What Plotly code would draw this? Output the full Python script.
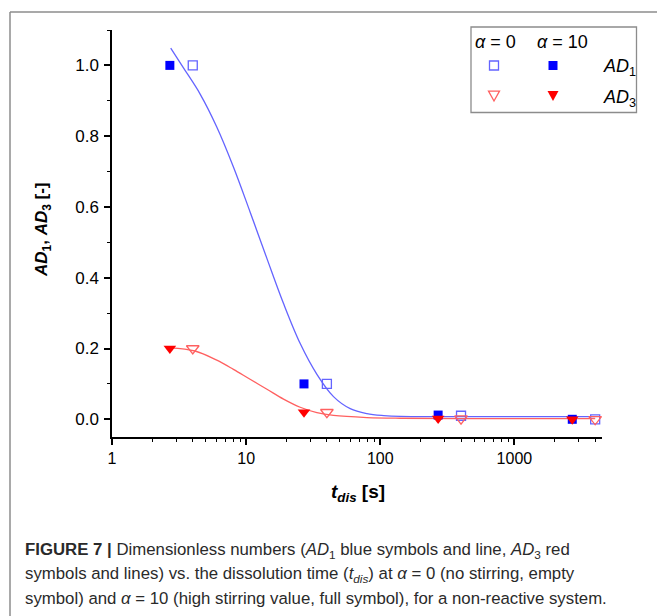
import plotly.graph_objects as go

# ---------------- data ----------------
t_alpha10 = [2.7, 27, 270, 2700]
t_alpha0 = [4, 40, 400, 4000]
AD1_alpha10 = [1.0, 0.10, 0.012, 0.0]
AD1_alpha0 = [1.0, 0.10, 0.010, 0.0]
AD3_alpha10 = [0.20, 0.020, 0.002, 0.0]
AD3_alpha0 = [0.20, 0.020, 0.002, 0.0]

# fitted curves
AD1_fit_t = [2.74, 3.41, 4.54, 6.04, 8.04, 10.7, 14.3, 19.0, 25.3, 33.7, 44.8, 59.7, 79.5, 106, 141, 400, 1000, 4000]
AD1_fit_y = [1.049, 0.993, 0.919, 0.826, 0.713, 0.586, 0.454, 0.327, 0.214, 0.127, 0.064, 0.030, 0.016, 0.0104, 0.008, 0.0075, 0.0075, 0.0075]
AD3_fit_t = [2.7, 4.16, 6.04, 8.04, 10.7, 14.3, 19.0, 25.3, 33.7, 44.8, 79.5, 141, 400, 4000]
AD3_fit_y = [0.202, 0.193, 0.167, 0.141, 0.113, 0.085, 0.057, 0.034, 0.019, 0.011, 0.005, 0.003, 0.002, 0.002]

x_tickvals = [1, 10, 100, 1000]
x_ticktext = ["1", "10", "100", "1000"]
y_tickvals = [0.0, 0.2, 0.4, 0.6, 0.8, 1.0]

# ---------------- layout geometry ----------------
W, H = 657, 616
L, R, T, B = 112, 55, 30, 179
PW = W - L - R
PH = H - T - B


def px(x):
    return (x - L) / PW


def py(y):
    return (H - B - y) / PH


BLUE = "#0000ff"
BLUE_LINE = "#6464ff"
RED = "#ff0000"
RED_LINE = "#ff6060"
FONT = "Liberation Sans, Arial, sans-serif"

fig = go.Figure()

fig.add_trace(go.Scatter(x=AD1_fit_t, y=AD1_fit_y, mode="lines",
                         line=dict(color=BLUE_LINE, width=1.3, shape="spline", smoothing=1.0),
                         showlegend=False, hoverinfo="skip"))
fig.add_trace(go.Scatter(x=AD3_fit_t, y=AD3_fit_y, mode="lines",
                         line=dict(color=RED_LINE, width=1.3, shape="spline", smoothing=1.0),
                         showlegend=False, hoverinfo="skip"))

fig.add_trace(go.Scatter(x=t_alpha10, y=AD1_alpha10, mode="markers",
                         marker=dict(symbol="square", size=9, color=BLUE, line=dict(width=0)),
                         showlegend=False))
fig.add_trace(go.Scatter(x=t_alpha0, y=AD1_alpha0, mode="markers",
                         marker=dict(symbol="square-open", size=9, color=BLUE_LINE, line=dict(width=1.3)),
                         showlegend=False))
fig.add_trace(go.Scatter(x=t_alpha10, y=AD3_alpha10, mode="markers",
                         marker=dict(symbol="triangle-down", size=11, color=RED, line=dict(width=0)),
                         showlegend=False))
fig.add_trace(go.Scatter(x=t_alpha0, y=AD3_alpha0, mode="markers",
                         marker=dict(symbol="triangle-down-open", size=11, color=RED_LINE, line=dict(width=1.3)),
                         showlegend=False))

shapes = []
# outer frame (left and top edges)
shapes.append(dict(type="line", xref="paper", yref="paper", x0=px(10), x1=px(10), y0=py(12), y1=py(H + 5),
                   line=dict(color="#8c8c8c", width=1.5)))
shapes.append(dict(type="line", xref="paper", yref="paper", x0=px(10), x1=px(W + 5), y0=py(12), y1=py(12),
                   line=dict(color="#8c8c8c", width=1.5)))
# legend box
shapes.append(dict(type="rect", xref="paper", yref="paper", x0=px(471), x1=px(636.5), y0=py(27), y1=py(112.5),
                   line=dict(color="#8c8c8c", width=1.3), fillcolor="white", layer="below"))


def square(cx, cy, s, filled, color):
    return dict(type="rect", xref="paper", yref="paper",
                x0=px(cx - s / 2), x1=px(cx + s / 2), y0=py(cy + s / 2), y1=py(cy - s / 2),
                line=dict(color=color, width=0 if filled else 1.3),
                fillcolor=color if filled else "rgba(0,0,0,0)")


def tri_down(cx, cy, w, filled, color):
    h = w * 0.9
    p = "M{:.5f},{:.5f} L{:.5f},{:.5f} L{:.5f},{:.5f} Z".format(
        px(cx - w / 2), py(cy - h / 2), px(cx + w / 2), py(cy - h / 2), px(cx), py(cy + h / 2))
    return dict(type="path", xref="paper", yref="paper", path=p,
                line=dict(color=color, width=0 if filled else 1.3),
                fillcolor=color if filled else "rgba(0,0,0,0)")


shapes.append(square(494, 65.5, 9, False, BLUE_LINE))
shapes.append(square(553, 65.5, 9, True, BLUE))
shapes.append(tri_down(494, 96, 11, False, RED_LINE))
shapes.append(tri_down(553, 96, 11, True, RED))

annotations = []
# legend texts
annotations.append(dict(xref="paper", yref="paper", x=px(473), y=py(42.5), xanchor="left", yanchor="middle",
                        text="<i>α</i> = 0", showarrow=False, font=dict(family=FONT, size=18, color="black")))
annotations.append(dict(xref="paper", yref="paper", x=px(535), y=py(42.5), xanchor="left", yanchor="middle",
                        text="<i>α</i> = 10", showarrow=False, font=dict(family=FONT, size=18, color="black")))
annotations.append(dict(xref="paper", yref="paper", x=px(601), y=py(67), xanchor="left", yanchor="middle",
                        text="<i>AD</i><sub>1</sub>", showarrow=False, font=dict(family=FONT, size=18, color="black")))
annotations.append(dict(xref="paper", yref="paper", x=px(601), y=py(98), xanchor="left", yanchor="middle",
                        text="<i>AD</i><sub>3</sub>", showarrow=False, font=dict(family=FONT, size=18, color="black")))

# axis titles
annotations.append(dict(xref="paper", yref="paper", x=px(358), y=py(493), xanchor="center", yanchor="middle",
                        text="<b><i>t</i><sub><i>dis</i></sub> [s]</b>", showarrow=False,
                        font=dict(family=FONT, size=19, color="black")))
annotations.append(dict(xref="paper", yref="paper", x=px(43), y=py(230), xanchor="center", yanchor="middle",
                        textangle=-90,
                        text="<b><i>AD</i><sub>1</sub>, <i>AD</i><sub>3</sub> [-]</b>", showarrow=False,
                        font=dict(family=FONT, size=17, color="black")))

# caption
caption_lines = [
    "<b>FIGURE 7 |</b> Dimensionless numbers (<i>AD</i><sub>1</sub> blue symbols and line, <i>AD</i><sub>3</sub> red",
    "symbols and lines) vs. the dissolution time (<i>t<sub>dis</sub></i>) at <i>α</i> = 0 (no stirring, empty",
    "symbol) and <i>α</i> = 10 (high stirring value, full symbol), for a non-reactive system.",
]
caption_y = [550, 574, 598]
for txt, yy in zip(caption_lines, caption_y):
    annotations.append(dict(xref="paper", yref="paper", x=px(23), y=py(yy), xanchor="left", yanchor="middle",
                            text=txt, showarrow=False, font=dict(family=FONT, size=16.8, color="#2a2a2a")))

fig.update_layout(
    width=W, height=H,
    margin=dict(l=L, r=R, t=T, b=B, pad=0),
    paper_bgcolor="white", plot_bgcolor="white",
    showlegend=False,
    shapes=shapes,
    annotations=annotations,
    font=dict(family=FONT, size=16, color="black"),
)

fig.update_xaxes(
    type="log", range=[0, 3.653],
    showline=True, linecolor="black", linewidth=1.5, mirror=False,
    showgrid=False, zeroline=False,
    ticks="outside", ticklen=6, tickwidth=1.5, tickcolor="black",
    tickvals=x_tickvals, ticktext=x_ticktext,
    tickfont=dict(family=FONT, size=16, color="black"),
    minor=dict(ticks="outside", ticklen=3.5, tickwidth=1.2, tickcolor="black", dtick="D1", showgrid=False),
)
fig.update_yaxes(
    range=[-0.05, 1.1],
    showline=True, linecolor="black", linewidth=1.5, mirror=False,
    showgrid=False, zeroline=False,
    ticks="outside", ticklen=6, tickwidth=1.5, tickcolor="black",
    tickvals=y_tickvals, tickformat=".1f", ticklabelstandoff=2,
    tickfont=dict(family=FONT, size=17, color="black"),
    minor=dict(ticks="outside", ticklen=3.5, tickwidth=1.2, tickcolor="black", tick0=0.1, dtick=0.2, showgrid=False),
)

fig.write_html(
    "out.html",
    config={"displayModeBar": False},
    post_script="document.body.style.margin='0';document.body.style.overflow='hidden';",
)
